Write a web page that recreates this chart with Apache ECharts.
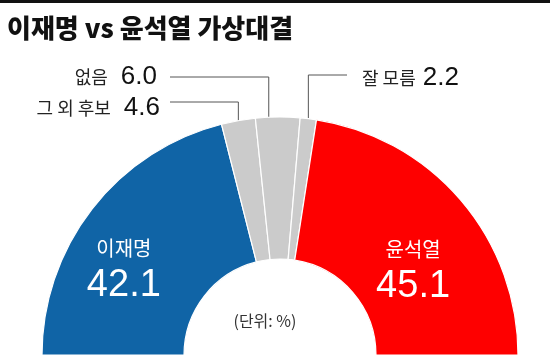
<!DOCTYPE html>
<html>
<head>
<meta charset="utf-8">
<script src="https://cdn.jsdelivr.net/npm/echarts@6/dist/echarts.min.js"></script>
<style>
  html, body { margin: 0; padding: 0; background: #fff; }
  #chart { width: 550px; height: 358px; }
</style>
</head>
<body>
<div id="chart"></div>
<script>
// ---- data ----
const titleText = '이재명 vs 윤석열 가상대결';
const unitText = '(단위: %)';
const categories = ['이재명', '그 외 후보', '없음', '잘 모름', '윤석열'];
const values = [42.1, 4.6, 6.0, 2.2, 45.1];
const valueLabels = ['42.1', '4.6', '6.0', '2.2', '45.1'];

// ---- styles ----
const colors = ['#1064a6', '#cbcbcb', '#cbcbcb', '#cbcbcb', '#fe0000'];
const CX = 280, CY = 355, R0 = 96, R = 238;
const KR = "'Noto Sans CJK KR', 'Noto Sans', sans-serif";
const NUM = "'Liberation Sans', Arial, sans-serif";
// outer label placement (label anchor, leader line elbow, drop-line shift)
const outerLayout = {
  1: { x: 160, y: 108, align: 'right', lineY: 102, lineX: 170, shift: 0, gap: 13 },
  2: { x: 157, y: 77, align: 'right', lineY: 77, lineX: 170, shift: -9, gap: 13 },
  3: { x: 362, y: 78, align: 'left', lineY: 75, lineX: 347, shift: 0, gap: 7 }
};
const innerOffsets = { 0: [-22, 18], 4: [4, 25] };

const chart = echarts.init(document.getElementById('chart'), null, { renderer: 'canvas' });

function midPoint(i) {
  const total = values.reduce((a, b) => a + b, 0);
  let cum = 0;
  for (let k = 0; k < i; k++) cum += values[k];
  const mid = cum + values[i] / 2;
  const ang = Math.PI - (mid / total) * Math.PI;
  return [CX + R * Math.cos(ang), CY - R * Math.sin(ang)];
}

const data = categories.map((name, i) => {
  const inner = (i === 0 || i === 4);
  const o = outerLayout[i];
  return {
    name: name,
    value: values[i],
    itemStyle: { color: colors[i] },
    label: inner ? {
      position: 'inside',
      offset: innerOffsets[i],
      rotate: 0,
      formatter: '{n|' + name + '}\n{v|' + valueLabels[i] + '}',
      rich: {
        n: { color: '#fff', fontFamily: KR, fontSize: 20, lineHeight: 34, align: 'center' },
        v: { color: '#fff', fontFamily: NUM, fontSize: 38, lineHeight: 40, align: 'center' }
      }
    } : {
      position: 'outside',
      formatter: '{n|' + name + '}{v|' + valueLabels[i] + '}',
      rich: {
        n: { color: '#222', fontFamily: KR, fontSize: 18 },
        v: { color: '#111', fontFamily: NUM, fontSize: 26, padding: [0, 0, 0, o.gap] }
      }
    },
    labelLine: { show: !inner, lineStyle: { color: '#555', width: 1 } }
  };
});

chart.setOption({
  animation: false,
  title: {
    text: titleText,
    left: 2,
    top: 10,
    textStyle: { fontFamily: KR, fontSize: 26, fontWeight: 900, color: '#111' }
  },
  graphic: [
    { type: 'rect', shape: { x: 0, y: 0, width: 550, height: 3 }, style: { fill: '#111' } },
    { type: 'text', x: 265, y: 321, style: { text: unitText, fontFamily: KR, fontSize: 16, fill: '#333', align: 'center', verticalAlign: 'middle' } }
  ],
  series: [{
    type: 'pie',
    center: [CX, CY],
    radius: [R0, R],
    startAngle: 180,
    endAngle: 0,
    clockwise: true,
    avoidLabelOverlap: false,
    itemStyle: { borderColor: '#fff', borderWidth: 1.2 },
    emphasis: { disabled: true },
    labelLine: { show: true, length: 10, length2: 10 },
    labelLayout: function (params) {
      const o = outerLayout[params.dataIndex];
      if (!o) return {};
      const p0 = (params.labelLinePoints && params.labelLinePoints[0]) || midPoint(params.dataIndex);
      const px = p0[0] + o.shift;
      return {
        x: o.x, y: o.y, align: o.align, verticalAlign: 'middle',
        labelLinePoints: [[px, p0[1]], [px, o.lineY], [o.lineX, o.lineY]]
      };
    },
    data: data
  }]
});
</script>
</body>
</html>
